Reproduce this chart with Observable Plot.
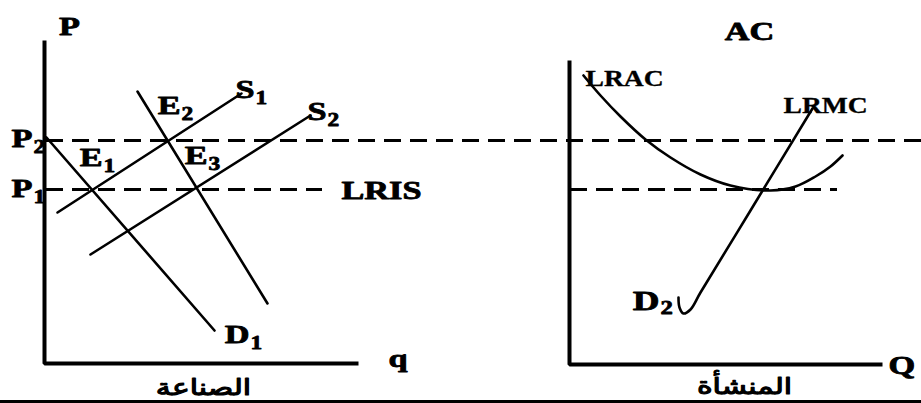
<!DOCTYPE html>
<html><head><meta charset="utf-8">
<script src="https://cdn.jsdelivr.net/npm/d3@7"></script>
<script src="https://cdn.jsdelivr.net/npm/@observablehq/plot@0.6"></script>
<style>html,body{margin:0;padding:0;background:#fff;overflow:hidden}</style>
</head><body><div id="chart"></div>
<script>
// Figure coordinates: x runs across the page (0–921), y runs upward (0–403)
const industryAxis = [[44,363],[44,40],[358,40]];
const firmAxis = [[569,343],[569,39],[882,39]];
const bottomRule = [[0,2],[921,2]];

const priceLevels = [
  {y: 263, x1: 46, x2: 921},   // P2, across both panels
  {y: 214, x1: 46, x2: 322},   // P1 / LRIS, industry
  {y: 214, x1: 570, x2: 837}   // P1, firm
];

const demandD1 = [[46,266],[214,73]];
const demandD2 = [[137,312],[267,100]];
const supplyS1 = [[57,191],[241,310]];
const supplyS2 = [[90,149],[310,288]];

const lrac = [[583,328],[600,308],[620,287],[645,264],[670,246],[700,229],[730,218],[770,213],[795,217],[815,227],[830,237],[842,248]];
const lrmc = [[678,106],[679,96],[683,90],[690,94],[700,111],[750,193],[812,295]];

// labels: main letter ends at x, subscript starts right of it
const subLabels = [
  {t:"P", s:"2", x:32,  y:265},
  {t:"P", s:"1", x:32,  y:215},
  {t:"E", s:"1", x:102, y:246},
  {t:"E", s:"2", x:180, y:298},
  {t:"E", s:"3", x:207, y:248},
  {t:"S", s:"1", x:254, y:314},
  {t:"S", s:"2", x:326, y:292},
  {t:"D", s:"1", x:249, y:69}
];
const firmD2 = [{t:"D", s:"2", x:659, y:102}];
const axisTitles = [
  {t:"P", x:69, y:377},
  {t:"AC", x:749, y:372}
];
const leftAnchored = [
  {t:"LRIS", x:341, y:213},
  {t:"q", x:388, y:45},
  {t:"Q", x:888, y:38}
];
const curveLabels = [
  {t:"LRAC", x:585, y:325},
  {t:"LRMC", x:783, y:298}
];
const panelNames = [
  {t:"الصناعة", x:203, y:16},
  {t:"المنشأة", x:744, y:17}
];

const serif = "Liberation Serif, Times New Roman, serif";
const line = (pts, w) => Plot.line(pts, {x: d => d[0], y: d => d[1], stroke: "black", strokeWidth: w});
const curve = (pts, w) => Plot.line(pts, {x: d => d[0], y: d => d[1], stroke: "black", strokeWidth: w, curve: "catmull-rom"});
const bold = (data, o) => Plot.text(data, {x: "x", y: "y", text: "t", fontWeight: "bold", fontFamily: serif, fill: "black", stroke: "black", strokeWidth: 0.8, ...o});

const chart = Plot.plot({
  width: 921, height: 403,
  margin: 0, marginTop: 0, marginRight: 0, marginBottom: 0, marginLeft: 0,
  x: {domain: [0, 921], axis: null},
  y: {domain: [0, 403], axis: null},
  style: {background: "white", overflow: "visible"},
  marks: [
    Plot.ruleY(priceLevels, {y: "y", x1: "x1", x2: "x2", stroke: "black", strokeWidth: 3, strokeDasharray: "17,9"}),
    Plot.line(industryAxis, {x: d => d[0], y: d => d[1], stroke: "black", strokeWidth: 4, strokeLinejoin: "miter", strokeLinecap: "butt"}),
    Plot.line(firmAxis, {x: d => d[0], y: d => d[1], stroke: "black", strokeWidth: 4, strokeLinejoin: "miter", strokeLinecap: "butt"}),
    Plot.line(bottomRule, {x: d => d[0], y: d => d[1], stroke: "black", strokeWidth: 3}),
    line(demandD1, 2.6), line(demandD2, 2.6), line(supplyS1, 2.6), line(supplyS2, 2.6),
    curve(lrac, 2.6), curve(lrmc, 2.6),
    bold(subLabels, {textAnchor: "end", fontSize: 25, ariaDescription: "sx1.37"}),
    bold(subLabels, {x: d => d.x + 1, y: d => d.y - 9, text: "s", textAnchor: "start", fontSize: 18, ariaDescription: "sx1.3"}),
    bold(firmD2, {textAnchor: "end", fontSize: 27, ariaDescription: "sx1.37"}),
    bold(firmD2, {x: d => d.x + 1, y: d => d.y - 6, text: "s", textAnchor: "start", fontSize: 19, ariaDescription: "sx1.3"}),
    bold(axisTitles, {textAnchor: "middle", fontSize: 25, ariaDescription: "sx1.37"}),
    bold(leftAnchored, {textAnchor: "start", fontSize: 25, ariaDescription: "sx1.37"}),
    bold(curveLabels, {textAnchor: "start", fontSize: 23, strokeWidth: 0.3, ariaDescription: "sx1.2"}),
    Plot.text(panelNames, {x: "x", y: "y", text: "t", textAnchor: "middle", fontSize: 23, fontWeight: "normal", fontFamily: "DejaVu Sans, sans-serif", fill: "black", stroke: "black", strokeWidth: 1.1, ariaDescription: "sx1.3"})
  ]
});

// horizontally stretch labels, as in the reference
chart.querySelectorAll('g[aria-description^="sx"]').forEach(g => {
  const s = g.getAttribute("aria-description").slice(2);
  g.querySelectorAll("text").forEach(t => {
    const tr = t.getAttribute("transform");
    if (tr) t.setAttribute("transform", tr + ` scale(${s},1)`);
    else {
      const x = +t.getAttribute("x") || 0, y = +t.getAttribute("y") || 0;
      t.removeAttribute("x"); t.removeAttribute("y");
      t.setAttribute("transform", `translate(${x},${y}) scale(${s},1)`);
    }
  });
});
document.getElementById("chart").appendChild(chart);
</script>
</body></html>
